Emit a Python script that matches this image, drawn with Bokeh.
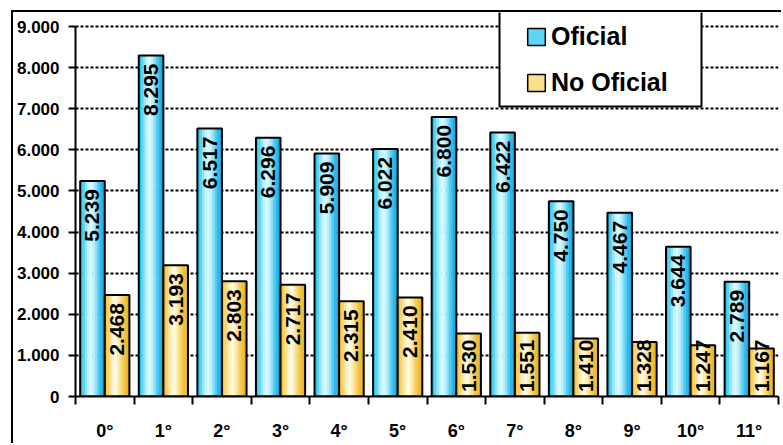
import numpy as np
from bokeh.plotting import figure
from bokeh.models import FixedTicker, Legend, LegendItem, Range1d, BoxAnnotation
from bokeh.core.properties import value
from bokeh.embed import file_html
from bokeh.resources import INLINE

# ---- data ----
categories = ["0°", "1°", "2°", "3°", "4°", "5°", "6°", "7°", "8°", "9°", "10°", "11°"]
oficial = [5239, 8295, 6517, 6296, 5909, 6022, 6800, 6422, 4750, 4467, 3644, 2789]
no_oficial = [2468, 3193, 2803, 2717, 2315, 2410, 1530, 1551, 1410, 1328, 1247, 1167]
series_names = ["Oficial", "No Oficial"]
y_ticks = [0, 1000, 2000, 3000, 4000, 5000, 6000, 7000, 8000, 9000]
y_tick_labels = ["0", "1.000", "2.000", "3.000", "4.000", "5.000", "6.000", "7.000", "8.000", "9.000"]

def fmt(v):
    return f"{v:,}".replace(",", ".")

# ---- styling ----
FONT = "Liberation Sans"
blue_grad = ["#2cc2ee", "#58d3f5", "#92e6fb", "#c4f5ff", "#d6faff", "#bff1fd", "#8fe0f8", "#56ccf1", "#2cbaea", "#16aae2"]
yellow_grad = ["#f3c53c", "#f7d468", "#fbe59a", "#fef3c8", "#fffae4", "#fdeeb8", "#f9dd86", "#f5cd58", "#f0bf36", "#e9b322"]

W, H = 770, 433
ML, MR, MT, MB = 62, 5, 0, 49
top_gap_px = 14                      # space between the 9.000 line and the canvas top
frame_w = W - ML - MR
frame_h = H - MT - MB
y_max = y_ticks[-1]
n_cat = len(categories)
u_per_px = y_max / (frame_h - top_gap_px)
x_per_px = n_cat / frame_w

p = figure(width=W, height=H, output_backend="svg", toolbar_location=None,
           x_range=Range1d(0, n_cat), y_range=Range1d(0, y_max + top_gap_px * u_per_px),
           min_border_left=ML, min_border_right=MR, min_border_top=MT, min_border_bottom=MB)
p.styles = {"border-left": "2px solid black", "border-top": "2px solid black",
            "margin-left": "11px", "margin-top": "10px"}
p.outline_line_color = None
p.background_fill_color = "white"
p.border_fill_color = "white"

centers = np.arange(n_cat) + 0.5
bw = 0.42
off = 0.21
x_of = centers - off
x_no = centers + off

N = len(blue_grad)
sw = bw / N
for xs, vals, grad in [(x_of, oficial, blue_grad), (x_no, no_oficial, yellow_grad)]:
    for j, col in enumerate(grad):
        p.vbar(x=xs - bw / 2 + sw * (j + 0.5), top=vals, bottom=0, width=sw * 1.15,
               fill_color=col, line_color=None)
    p.vbar(x=xs, top=vals, bottom=0, width=bw, fill_color=None,
           line_color="black", line_width=2)

# value labels (rotated, inside top end; pushed up when bar is short)
pad = 8 * u_per_px
min_anchor = 57 * u_per_px
for xs, vals in [(x_of, oficial), (x_no, no_oficial)]:
    ys = [max(v - pad, min_anchor) for v in vals]
    p.text(x=xs, y=ys, text=[fmt(v) for v in vals], angle=np.pi / 2,
           text_align="right", text_baseline="middle",
           text_font=value(FONT), text_font_style="bold",
           text_font_size="21px", text_color="black")

# axes
p.yaxis.ticker = FixedTicker(ticks=y_ticks)
p.yaxis.bounds = (0, y_max)
p.yaxis.major_label_overrides = {t: l for t, l in zip(y_ticks, y_tick_labels)}
p.yaxis.major_label_text_font = FONT
p.yaxis.major_label_text_font_style = "bold"
p.yaxis.major_label_text_font_size = "17px"
p.yaxis.major_label_text_color = "black"
p.yaxis.major_tick_out = 7
p.yaxis.major_tick_in = 0
p.yaxis.major_tick_line_width = 2
p.yaxis.axis_line_width = 2
p.yaxis.major_label_standoff = 9
p.yaxis.minor_tick_line_color = None

p.xaxis.ticker = FixedTicker(ticks=list(centers), minor_ticks=list(range(n_cat + 1)))
p.xaxis.major_label_overrides = {float(c): lab for c, lab in zip(centers, categories)}
p.xaxis.major_tick_line_color = None
p.xaxis.major_tick_out = 0
p.xaxis.major_tick_in = 0
p.xaxis.minor_tick_out = 8
p.xaxis.minor_tick_in = 0
p.xaxis.minor_tick_line_width = 2
p.xaxis.axis_line_width = 2
p.xaxis.major_label_standoff = 16
p.xaxis.major_label_text_font = FONT
p.xaxis.major_label_text_font_style = "bold"
p.xaxis.major_label_text_font_size = "18px"
p.xaxis.major_label_text_color = "black"

p.xgrid.visible = False
p.ygrid.grid_line_color = "black"
p.ygrid.grid_line_dash = "3 2"
p.ygrid.grid_line_width = 2

# legend frame (px offsets from the frame's bottom-left, converted to data units)
lg_left, lg_right, lg_bottom, lg_top = 424, 626, 290, 390
p.add_layout(BoxAnnotation(left=lg_left * x_per_px, right=lg_right * x_per_px,
                           bottom=lg_bottom * u_per_px, top=lg_top * u_per_px,
                           fill_color="white", fill_alpha=1,
                           line_color="black", line_width=2, line_alpha=1))

# legend swatches come from hidden bar renderers
s1 = p.vbar(x=x_of, top=oficial, width=bw, fill_color="#5fd4f5",
            line_color="black", line_width=1.5, visible=False)
s2 = p.vbar(x=x_no, top=no_oficial, width=bw, fill_color="#fbe08a",
            line_color="black", line_width=1.5, visible=False)
legend = Legend(items=[LegendItem(label=series_names[0], renderers=[s1], index=0),
                       LegendItem(label=series_names[1], renderers=[s2], index=0)],
                location=(lg_left, 273), glyph_width=22, glyph_height=21, label_height=30,
                label_standoff=4, spacing=16, padding=26, margin=0,
                label_text_font=FONT, label_text_font_style="bold",
                label_text_font_size="25px", label_text_color="black",
                label_text_baseline="middle",
                border_line_color="white", border_line_alpha=0, background_fill_alpha=0)
p.add_layout(legend)

open("out.html", "w").write(file_html(p, INLINE))
